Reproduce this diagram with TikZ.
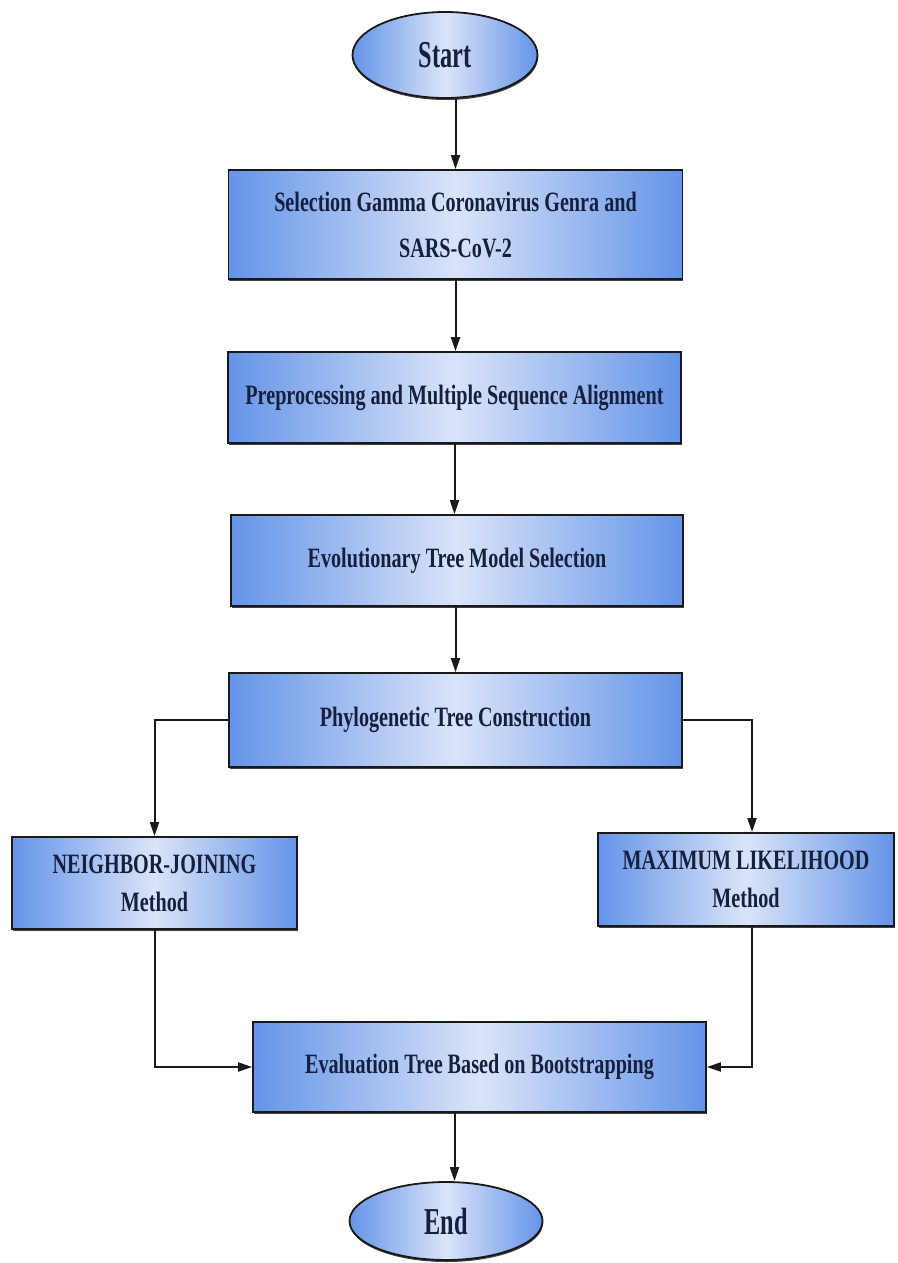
\documentclass[tikz,border=0pt]{standalone}
\usepackage{fontspec}
\setmainfont{Liberation Serif}
\newfontfamily\boxfont[FakeStretch=0.72]{Liberation Serif}
\newfontfamily\ellfont[FakeStretch=0.64]{Liberation Serif}
\usetikzlibrary{arrows.meta,shadows,shapes.geometric}
\definecolor{edgeblue}{RGB}{100,148,232}
\definecolor{midblue}{RGB}{218,228,248}
\definecolor{txt}{RGB}{22,32,62}
\begin{document}
\begin{tikzpicture}[x=1pt,y=-1pt,
  base/.style={draw=black!90, line width=1.8pt, left color=edgeblue, right color=edgeblue, middle color=midblue,
    text=txt, inner sep=0pt, align=center,
    drop shadow={shadow xshift=0.6pt, shadow yshift=-2pt, fill=black!75, opacity=1}},
  procbox/.style={base, rectangle, font=\boxfont\bfseries\fontsize{28}{32}\selectfont},
  termnode/.style={base, ellipse, font=\ellfont\bfseries\fontsize{38}{42}\selectfont},
  arr/.style={draw=black!90, line width=2pt, -{Triangle[length=14pt,width=9pt]}}]
\useasboundingbox (0,0) rectangle (897,1263);
\fill[white] (0,0) rectangle (897,1263);

\node[termnode, minimum width=185pt, minimum height=86pt] (start) at (445,55) {Start};
\node[procbox, minimum width=454pt, minimum height=109pt] (b1) at (455.5,224.5)
  {Selection Gamma Coronavirus Genra and\\[14pt] SARS-CoV-2};
\node[procbox, minimum width=453pt, minimum height=91pt] (b2) at (454.5,397.5)
  {Preprocessing and Multiple Sequence Alignment};
\node[procbox, minimum width=452pt, minimum height=91pt] (b3) at (457,560.5)
  {Evolutionary Tree Model Selection};
\node[procbox, minimum width=453pt, minimum height=94pt] (b4) at (455.5,720)
  {Phylogenetic Tree Construction};
\node[procbox, minimum width=285pt, minimum height=92pt] (lb) at (154.5,883)
  {NEIGHBOR-JOINING\\[6pt] Method};
\node[procbox, minimum width=296pt, minimum height=93pt] (rb) at (746,879.5)
  {MAXIMUM LIKELIHOOD\\[6pt] Method};
\node[procbox, minimum width=453pt, minimum height=90pt] (ev) at (479.5,1067)
  {Evaluation Tree Based on Bootstrapping};
\node[termnode, minimum width=193pt, minimum height=78pt] (end) at (446,1221) {End};

\draw[arr] (start.south -| b1.north) -- (b1.north);
\draw[arr] (b1.south) -- (b1.south |- b2.north);
\draw[arr] (b2.south) -- (b2.south |- b3.north);
\draw[arr] (b3.south -| b4.north) -- (b4.north);
\draw[arr] (b4.west) -| (lb.north);
\draw[arr] (b4.east) -| ([xshift=6pt]rb.north);
\draw[arr] (lb.south) |- (ev.west);
\draw[arr] ([xshift=6pt]rb.south) |- (ev.east);
\draw[arr] (ev.south -| b2.south) -- (end.north -| b2.south);
\end{tikzpicture}
\end{document}
